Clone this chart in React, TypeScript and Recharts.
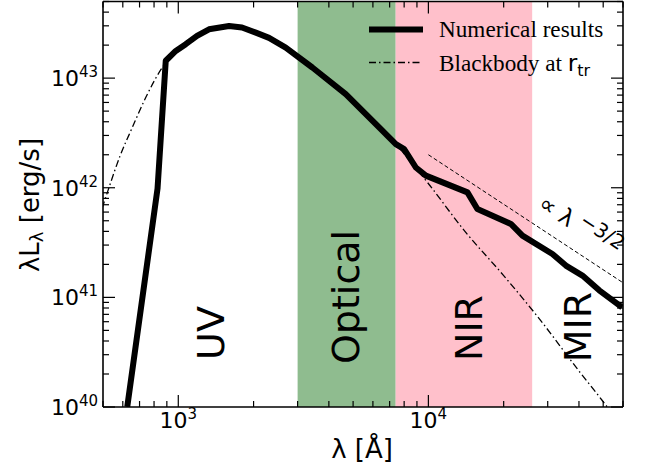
import React from 'react'
import { LineChart, Line, XAxis, YAxis, ReferenceArea } from 'recharts'

// wavelength [Å] and λL_λ [erg/s]
const numLambda = [625, 826, 891, 977, 1071, 1188, 1327, 1596, 1798, 2042, 2306, 2689, 3436, 4673, 6353, 7410, 8000, 8910, 9770, 14330, 15700, 21370, 23770, 31330, 35460, 41300, 48200, 59500]
const numLum = [1e40, 9.8e41, 1.44e43, 1.77e43, 2.04e43, 2.43e43, 2.79e43, 2.99e43, 2.9e43, 2.6e43, 2.33e43, 1.9e43, 1.25e43, 7.15e42, 3.55e42, 2.5e42, 2.25e42, 1.53e42, 1.29e42, 9.08e41, 6.4e41, 4.68e41, 3.66e41, 2.49e41, 1.95e41, 1.58e41, 1.16e41, 8.1e40]

const bbLambda = [496, 528, 585, 655, 741, 863, 977, 1071, 1327, 1596, 2042, 2689, 3436, 4673, 6353, 7410, 8500, 9910, 14000, 20000, 27730, 40000, 49660, 55000]
const bbLum = [6.5e41, 1.0e42, 1.95e42, 3.55e42, 6.65e42, 1.25e43, 1.77e43, 2.04e43, 2.79e43, 2.99e43, 2.6e43, 1.9e43, 1.25e43, 7.15e42, 3.55e42, 2.5e42, 1.72e42, 1.12e42, 4.0e41, 1.58e41, 6.4e40, 2.13e40, 1.14e40, 8.4e39]

const slopeLambda = [10000, 60000]
const slopeLum = [2e42, 1.36e41]

const bands = [
  { name: 'Optical', from: 3000, to: 7400, color: '#8fbc8f' },
  { name: 'NIR', from: 7400, to: 26000, color: '#ffc0cb' },
]

const xMajor = [1e3, 1e4]
const yMajor = [1e40, 1e41, 1e42, 1e43]
const xTicks = [500, 600, 700, 800, 900, 1000, 2000, 3000, 4000, 5000, 6000, 7000, 8000, 9000, 10000, 20000, 30000, 40000, 50000, 60000]
const yTicks = [
  1e40, 2e40, 3e40, 4e40, 5e40, 6e40, 7e40, 8e40, 9e40,
  1e41, 2e41, 3e41, 4e41, 5e41, 6e41, 7e41, 8e41, 9e41,
  1e42, 2e42, 3e42, 4e42, 5e42, 6e42, 7e42, 8e42, 9e42,
  1e43, 2e43, 3e43, 4e43, 5e43,
]

const toRows = (xs: number[], ys: number[]) => xs.map((x, i) => ({ x, y: ys[i] }))
const numData = toRows(numLambda, numLum)
const bbData = toRows(bbLambda, bbLum)
const slopeData = toRows(slopeLambda, slopeLum)

const FONT = 'DejaVu Sans, sans-serif'
const isMajor = (v: number, list: number[]) => list.some((m) => Math.abs(m - v) / m < 1e-6)
const expOf = (v: number) => Math.round(Math.log10(v))

const Pow10 = ({ v }: { v: number }) => (
  <>
    10<tspan fontSize={15} dy={-9}>{expOf(v)}</tspan>
  </>
)

const LeftTick = (p: any) => {
  const major = isMajor(p.payload.value, yMajor)
  return (
    <g>
      <line x1={p.x} x2={p.x + (major ? 12 : 6)} y1={p.y} y2={p.y} stroke="#000" strokeWidth={1.2} />
      {major && (
        <text x={p.x - 5} y={p.y + 8} textAnchor="end" fontFamily={FONT} fontSize={22} fill="#000">
          <Pow10 v={p.payload.value} />
        </text>
      )}
    </g>
  )
}

const RightTick = (p: any) => {
  const major = isMajor(p.payload.value, yMajor)
  return <line x1={p.x} x2={p.x - (major ? 12 : 6)} y1={p.y} y2={p.y} stroke="#000" strokeWidth={1.2} />
}

const BottomTick = (p: any) => {
  const major = isMajor(p.payload.value, xMajor)
  return (
    <g>
      <line x1={p.x} x2={p.x} y1={p.y} y2={p.y - (major ? 12 : 6)} stroke="#000" strokeWidth={1.2} />
      {major && (
        <text x={p.x} y={p.y + 21} textAnchor="middle" fontFamily={FONT} fontSize={22} fill="#000">
          <Pow10 v={p.payload.value} />
        </text>
      )}
    </g>
  )
}

const TopTick = (p: any) => {
  const major = isMajor(p.payload.value, xMajor)
  return <line x1={p.x} x2={p.x} y1={p.y} y2={p.y + (major ? 12 : 6)} stroke="#000" strokeWidth={1.2} />
}

const axisLine = { stroke: '#000', strokeWidth: 1.6 }

export default function App() {
  const W = 649
  const H = 472
  return (
    <div style={{ position: 'absolute', left: 0, top: 0, width: W, height: H, background: '#fff' }}>
      <LineChart width={W} height={H} margin={{ top: 0.5, right: 25, bottom: 25, left: 43 }}>
        <XAxis xAxisId={0} dataKey="x" type="number" scale="log" domain={[500, 60000]} allowDataOverflow
          ticks={xTicks} interval={0} height={40} tickSize={0} tickMargin={0} tickLine={false}
          axisLine={axisLine} tick={BottomTick} />
        <XAxis xAxisId="top" orientation="top" dataKey="x" type="number" scale="log" domain={[500, 60000]} allowDataOverflow
          ticks={xTicks} interval={0} height={1} tickSize={0} tickMargin={0} tickLine={false}
          axisLine={axisLine} tick={TopTick} />
        <YAxis yAxisId={0} dataKey="y" type="number" scale="log" domain={[1e40, 5e43]} allowDataOverflow
          ticks={yTicks} interval={0} width={60} tickSize={0} tickMargin={0} tickLine={false}
          axisLine={axisLine} tick={LeftTick} />
        <YAxis yAxisId="right" orientation="right" dataKey="y" type="number" scale="log" domain={[1e40, 5e43]} allowDataOverflow
          ticks={yTicks} interval={0} width={1} tickSize={0} tickMargin={0} tickLine={false}
          axisLine={axisLine} tick={RightTick} />
        {bands.map((b) => (
          <ReferenceArea key={b.name} x1={b.from} x2={b.to} y1={1e40} y2={5e43} fill={b.color} fillOpacity={1} stroke="none" />
        ))}
        <Line data={slopeData} dataKey="y" type="linear" stroke="#000" strokeWidth={1} strokeDasharray="4 2.5"
          dot={false} activeDot={false} isAnimationActive={false} />
        <Line data={bbData} dataKey="y" type="monotone" stroke="#000" strokeWidth={1.3} strokeDasharray="7 3 1.5 3"
          dot={false} activeDot={false} isAnimationActive={false} />
        <Line data={numData} dataKey="y" type="linear" stroke="#000" strokeWidth={6} strokeLinejoin="round"
          dot={false} activeDot={false} isAnimationActive={false} />
      </LineChart>
      <svg width={W} height={H} style={{ position: 'absolute', left: 0, top: 0, pointerEvents: 'none' }}>
        <g fontFamily={FONT} fill="#000">
          <text transform="translate(30,205) rotate(-90)" textAnchor="middle" dominantBaseline="central" fontSize={26}>
            λL<tspan fontSize={18} dy={6}>λ</tspan><tspan dy={-6}> [erg/s]</tspan>
          </text>
          <text x={362} y={458} textAnchor="middle" fontSize={26}>λ [Å]</text>
          <text transform="translate(211,333) rotate(-90)" textAnchor="middle" dominantBaseline="central" fontSize={38}>UV</text>
          <text transform="translate(346,297) rotate(-90)" textAnchor="middle" dominantBaseline="central" fontSize={38}>Optical</text>
          <text transform="translate(469,328) rotate(-90)" textAnchor="middle" dominantBaseline="central" fontSize={38}>NIR</text>
          <text transform="translate(578,327) rotate(-90)" textAnchor="middle" dominantBaseline="central" fontSize={38}>MIR</text>
          <text transform="translate(580,226) rotate(33.4)" textAnchor="middle" dominantBaseline="central" fontSize={23}>
            ∝ λ<tspan dy={-8} fontSize={20}> −3/2</tspan>
          </text>
        </g>
        <line x1={369} x2={423} y1={29.5} y2={29.5} stroke="#000" strokeWidth={6} />
        <text x={439} y={37} fontFamily="Liberation Serif, serif" fontSize={23.2} fill="#000">Numerical results</text>
        <line x1={369} x2={421} y1={62.5} y2={62.5} stroke="#000" strokeWidth={1.3} strokeDasharray="7 3 1.5 3" />
        <text x={439} y={70.5} fontFamily="Liberation Serif, serif" fontSize={23.2} fill="#000">
          Blackbody at <tspan fontFamily={FONT}>r</tspan><tspan fontFamily={FONT} fontSize={16} dy={5}>tr</tspan>
        </text>
      </svg>
    </div>
  )
}
